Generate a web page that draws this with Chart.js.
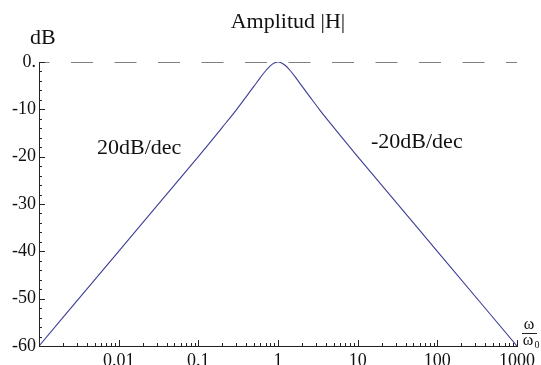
<!DOCTYPE html>
<html>
<head>
<meta charset="utf-8">
<script src="https://cdn.jsdelivr.net/npm/chart.js@4"></script>
<style>
  html, body { margin: 0; padding: 0; background: #fff; }
  #wrap { width: 541px; height: 365px; }
</style>
</head>
<body>
<div id="wrap"><canvas id="bode"></canvas></div>
<script>
// frequency (w / w0) and magnitude in dB
const omega = [0.001, 0.01, 0.05, 0.1, 0.15, 0.2, 0.3, 0.4, 0.5, 0.6, 0.7, 0.8, 0.9, 1,
               1.11, 1.25, 1.43, 1.67, 2, 2.5, 3.33, 5, 6.67, 10, 20, 100, 1000];
const magDb = [-60, -40, -26, -20, -16.4, -13.8, -10.1, -7.3, -5.1, -3.3, -1.85, -0.8, -0.2, 0,
               -0.2, -0.8, -1.85, -3.3, -5.1, -7.3, -10.1, -13.8, -16.4, -20, -26, -40, -60];
const refLevel = 0;

const xTicks = [0.01, 0.1, 1, 10, 100, 1000];
const xTickLabels = ['0.01', '0.1', '1', '10', '100', '1000'];
const yTicks = [0, -10, -20, -30, -40, -50, -60];
const yTickLabels = ['0.', '-10', '-20', '-30', '-40', '-50', '-60'];

const serif = "'Liberation Serif', 'DejaVu Serif', serif";
Chart.defaults.font.family = serif;
Chart.defaults.font.size = 18;
Chart.defaults.color = '#111';

// Mathematica style inward ticks + the text around the plot
const decorPlugin = {
  id: 'decor',
  afterDraw(chart) {
    const ctx = chart.ctx;
    const xs = chart.scales.x, ys = chart.scales.y;
    const area = chart.chartArea;
    ctx.save();
    ctx.strokeStyle = '#222';
    ctx.lineWidth = 1;
    ctx.beginPath();
    for (let d = -3; d <= 3; d++) {
      for (let k = 1; k <= 9; k++) {
        const v = k * Math.pow(10, d);
        if (v < 0.001 || v > 1000) continue;
        const px = Math.round(xs.getPixelForValue(v)) + 0.5;
        const len = k === 1 ? 6 : 3;
        ctx.moveTo(px, area.bottom);
        ctx.lineTo(px, area.bottom - len);
      }
    }
    for (let v = 0; v >= -60; v -= 2) {
      const py = Math.round(ys.getPixelForValue(v)) + 0.5;
      const len = v % 10 === 0 ? 6 : 3;
      ctx.moveTo(area.left, py);
      ctx.lineTo(area.left + len, py);
    }
    ctx.stroke();

    ctx.fillStyle = '#111';
    ctx.textBaseline = 'alphabetic';
    ctx.font = '22px ' + serif;
    ctx.textAlign = 'center';
    ctx.fillText('Amplitud |H|', 288, 28);
    ctx.textAlign = 'left';
    ctx.fillText('dB', 30, 44);
    ctx.fillText('20dB/dec', 97, 154);
    ctx.fillText('-20dB/dec', 371, 148);

    // w / w0 axis label
    ctx.font = '16px ' + serif;
    ctx.textAlign = 'center';
    ctx.fillText('\u03c9', 529, 329);
    ctx.fillText('\u03c9', 528, 345);
    ctx.font = '10px ' + serif;
    ctx.fillText('0', 537, 348);
    ctx.beginPath();
    ctx.moveTo(522, 333.5);
    ctx.lineTo(537, 333.5);
    ctx.stroke();
    ctx.restore();
  }
};

new Chart(document.getElementById('bode'), {
  type: 'scatter',
  data: {
    datasets: [
      {
        data: omega.map((w, i) => ({ x: w, y: magDb[i] })),
        showLine: true,
        borderColor: '#3d3d99',
        borderWidth: 1.1,
        pointRadius: 0,
        cubicInterpolationMode: 'monotone'
      },
      {
        data: [{ x: 0.001, y: refLevel }, { x: 1000, y: refLevel }],
        showLine: true,
        borderColor: '#000',
        borderWidth: 1,
        borderDash: [22, 21.5],
        borderDashOffset: 11.5,
        pointRadius: 0
      }
    ]
  },
  options: {
    responsive: true,
    maintainAspectRatio: false,
    animation: false,
    layout: { padding: { left: 0, top: 62, right: 24, bottom: 0 } },
    plugins: {
      legend: { display: false },
      tooltip: { enabled: false },
      title: { display: false }
    },
    scales: {
      x: {
        type: 'logarithmic',
        min: 0.001,
        max: 1000,
        afterBuildTicks: (scale) => { scale.ticks = xTicks.map(v => ({ value: v })); },
        afterFit: (scale) => { scale.height = 19; },
        grid: { display: false, drawTicks: false },
        border: { display: true, color: '#222', width: 1 },
        ticks: {
          autoSkip: false,
          maxRotation: 0,
          padding: 4,
          color: '#111',
          font: { family: serif, size: 18 },
          callback: (v) => {
            const i = xTicks.findIndex(t => Math.abs(t - v) / t < 1e-6);
            return i >= 0 ? xTickLabels[i] : '';
          }
        }
      },
      y: {
        min: -60,
        max: 0,
        afterBuildTicks: (scale) => { scale.ticks = yTicks.map(v => ({ value: v })); },
        afterFit: (scale) => { scale.width = 39; },
        grid: { display: false, drawTicks: false },
        border: { display: true, color: '#222', width: 1 },
        ticks: {
          padding: 3,
          color: '#111',
          font: { family: serif, size: 18 },
          callback: (v) => {
            const i = yTicks.indexOf(v);
            return i >= 0 ? yTickLabels[i] : '';
          }
        }
      }
    }
  },
  plugins: [decorPlugin]
});
</script>
</body>
</html>
